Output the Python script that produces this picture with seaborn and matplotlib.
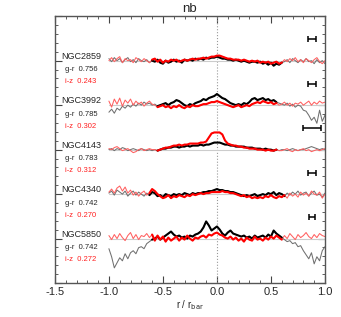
import numpy as np
import pandas as pd
import seaborn as sns
from matplotlib import pyplot as plt
from matplotlib.ticker import MultipleLocator

# radial grid (r / r_bar) on which the colour profiles are sampled
r = np.linspace(-1.0, 1.0, 81)

galaxies = ['NGC2859', 'NGC3992', 'NGC4143', 'NGC4340', 'NGC5850']
gr_mean = ['0.756', '0.785', '0.783', '0.742', '0.742']
iz_mean = ['0.243', '0.302', '0.312', '0.270', '0.272']
offsets = [5, 4, 3, 2, 1]
inner_lim = [0.61, 0.55, 0.56, 0.63, 0.61]   # extent of the bar region (thick line)
psf_half = [0.04, 0.035, 0.08, 0.04, 0.03]   # half width of resolution bar

# colour residuals along the bar, in centi-mag
gr_2859 = [2, -1, 3, 0, 2, -2, 1, 3, -1,
           1, -2, 2, 0, -1, 1, -2, 0,
           -1, 1, -2, -3, 0, -2, -1, 1,
           -1, 0, -2, 1, 0, 1, 0, 2,
           1, 2, 1, 3, 2, 3, 3, 4,
           3, 2, 2, 1, 1, 0, 1, 0,
           -1, 0, -1, -2, -1, -1, -2, -1,
           -3, -2, -4, -2, -5, -3, -4, -2,
           -1, 1, -2, 2, 0, -2, 1, -1,
           2, -1, 0, -3, 1, -2, 0, -3]
iz_2859 = [0, 3, -1, 2, 4, -2, 2, 0, 1,
           -2, 3, 1, -1, 2, 0, -2, 1,
           2, -1, 1, -2, 0, -1, 1, 0,
           1, -1, 0, 1, 0, 1, 2, 1,
           2, 2, 3, 2, 3, 4, 4, 5,
           5, 4, 3, 2, 2, 1, 1, 1,
           0, 1, 0, -1, 0, -1, 0, -2,
           -1, -2, -1, -3, -2, -1, -3, -2,
           1, -1, 2, 0, 3, -1, 1, -2,
           2, 0, -2, 1, 3, -1, -3, 0]

gr_3992 = [-7, -4, -8, -3, -5, -1, -3, 0, -2,
           1, -1, 2, 0, 3, 1, 2, 0,
           1, -1, 0, 1, 2, 0, 2, 3,
           5, 4, 2, 0, -1, 1, 0, 2,
           3, 4, 6, 5, 7, 8, 9, 11,
           9, 7, 6, 4, 2, 1, 0, 1,
           0, 2, 1, 3, 6, 7, 5, 6,
           7, 5, 6, 4, 5, 3, 2, 1,
           0, 2, -1, 1, -2, 0, -1, -5,
           -6, -10, -15, -12, -18, -5, -16, -10]
iz_3992 = [4, -2, 6, 1, 7, -1, 5, 2, 6,
           0, 4, 1, 3, -1, 2, 4, 1,
           0, -2, -1, 0, -2, -1, -3, -1,
           -2, 0, -2, -3, -1, -2, 0, -1,
           -1, 0, 1, 1, 2, 3, 3, 4,
           3, 2, 1, 0, -1, -2, -1, 0,
           -2, -1, 0, -1, 1, 2, 3, 2,
           4, 3, 2, 3, 1, 2, 0, 1,
           3, 0, 2, -1, 2, 1, 3, 0,
           2, 4, 0, 3, 1, 4, 2, 3]

gr_4143 = [0, 1, -1, 1, 0, 2, 1, -1, 0,
           1, 0, -1, 1, 0, -1, 0, -1,
           0, -1, 0, 1, 1, 2, 2, 3,
           3, 2, 3, 3, 4, 3, 4, 4,
           4, 5, 4, 5, 5, 6, 7, 7,
           7, 6, 5, 5, 4, 4, 3, 3,
           3, 3, 2, 2, 2, 1, 1, 1,
           0, 1, 0, 0, -1, 0, -1, 0,
           0, -1, 0, 1, 0, -1, 0, 0,
           1, 2, 3, 2, 1, 0, 1, 0]
iz_4143 = [1, 0, 2, 3, 1, -1, 0, 1, -1,
           -3, -2, 0, 1, -1, 0, 1, 0,
           0, -1, 0, 1, 2, 2, 3, 4,
           4, 5, 4, 5, 5, 6, 6, 6,
           6, 7, 7, 8, 12, 16, 17, 17,
           17, 15, 9, 6, 5, 4, 4, 3,
           3, 2, 2, 1, 1, 1, 0, 0,
           0, -1, 0, -1, -1, 0, -1, -1,
           0, 1, -1, -2, 0, -1, 0, 1,
           -1, 0, -2, -1, 0, -1, 0, 1]

gr_4340 = [1, 3, -1, 4, 2, 0, 3, -2, 1,
           3, -1, 2, 0, -2, 1, -1, 2,
           1, -2, -1, -3, 0, -1, -2, 0,
           -1, 0, -1, 1, 0, -1, 1, 0,
           1, 1, 2, 2, 3, 3, 4, 5,
           4, 4, 3, 3, 2, 2, 1, 0,
           -1, -2, -1, -2, -1, 0, -2, -1,
           0, -1, 1, 0, 2, -1, 1, 0,
           -2, 1, -1, 2, 0, 3, -1, 1,
           2, -2, 1, 3, -1, 0, -3, 1]
iz_4340 = [2, 5, 1, 6, 8, 3, 7, 1, 4,
           -1, 2, -2, 1, 3, -1, 1, 5,
           3, 0, -2, -4, -3, -1, -4, -2,
           -3, -1, -2, -3, -1, -2, 0, -1,
           0, 1, 0, 1, 1, 2, 2, 2,
           2, 3, 2, 2, 1, 1, 0, -1,
           -2, -1, -3, -2, -4, -3, -4, -3,
           -4, -2, -3, -1, -3, -4, -2, -3,
           -1, -4, 1, -2, 0, -3, 2, -1,
           1, -2, 3, 0, -1, 2, -4, 0]

gr_5850 = [-10, -18, -29, -24, -19, -22, -15, -20, -14,
           -12, -15, -9, -8, -10, -5, -3, -1,
           0, 2, -1, 1, 3, 5, 7, 4,
           2, 3, 1, 2, 0, 3, 2, 4,
           5, 7, 11, 17, 13, 8, 10, 12,
           9, 5, 3, 6, 8, 5, 4, 3,
           2, 3, 1, 2, 0, 3, 1, 2,
           3, 1, 4, 2, 8, 5, 3, 1,
           -1, -3, -2, -5, -4, -8, -7, -12,
           -16, -20, -14, -25, -18, -22, -12, -8]
iz_5850 = [3, -1, 4, 0, 5, 1, -2, 3, 6,
           0, 4, -1, 3, 2, 5, 1, 4,
           -2, 3, -1, 2, -3, 1, -2, 0,
           2, -2, 1, -1, 3, 0, -2, 1,
           0, 2, 3, 1, 4, 3, 5, 6,
           4, 3, 1, 0, 2, -1, 1, -2,
           0, -3, 1, -1, -2, 2, -1, 0,
           -2, 1, -1, 2, 0, 3, 1, -1,
           3, 0, 5, 2, -1, 4, 1, 3,
           6, 2, 0, 4, 1, 5, 3, 2]

gr_all = [gr_2859, gr_3992, gr_4143, gr_4340, gr_5850]
iz_all = [iz_2859, iz_3992, iz_4143, iz_4340, iz_5850]

sns.set_theme(style='ticks')
plt.rcParams['font.family'] = ['Liberation Sans', 'DejaVu Sans']
plt.rcParams['axes.unicode_minus'] = False

scale = 0.0227  # offset units per centi-mag

fig = plt.figure(figsize=(3.41, 3.17), dpi=100)
ax = fig.add_axes([0.161, 0.107, 0.792, 0.842])

ax.axvline(0, color='#999999', lw=0.8, ls=':', zorder=1)

for k, name in enumerate(galaxies):
    base = offsets[k]
    df = pd.DataFrame({'r': r,
                       'gr': base + scale * np.array(gr_all[k]),
                       'iz': base + scale * np.array(iz_all[k])})
    inner = df[np.abs(df['r']) <= inner_lim[k]]
    ax.plot([-1, 1], [base, base], color='#cccccc', lw=0.8, zorder=1)
    sns.lineplot(data=df, x='r', y='gr', ax=ax, color='#707070', lw=0.75,
                 estimator=None, sort=False, zorder=2)
    sns.lineplot(data=df, x='r', y='iz', ax=ax, color='#ff6060', lw=0.75,
                 estimator=None, sort=False, zorder=2)
    sns.lineplot(data=inner, x='r', y='gr', ax=ax, color='black', lw=1.5,
                 estimator=None, sort=False, zorder=3)
    sns.lineplot(data=inner, x='r', y='iz', ax=ax, color='#ff0000', lw=1.5,
                 estimator=None, sort=False, zorder=4)
    ax.errorbar(0.88, base + 0.48, xerr=psf_half[k], color='black',
                lw=1.1, capsize=2, capthick=1.1)
    ax.text(-1.44, base + 0.1, name, fontsize=6.5, va='center', ha='left')
    ax.text(-1.405, base - 0.2, 'g-r  ' + gr_mean[k], fontsize=5.5, va='center', ha='left')
    ax.text(-1.405, base - 0.47, 'i-z  ' + iz_mean[k], fontsize=5.5, va='center',
            ha='left', color='#ff2020')

ax.set_xlim(-1.5, 1.0)
ax.set_ylim(0, 6)
ax.xaxis.set_major_locator(MultipleLocator(0.5))
ax.xaxis.set_minor_locator(MultipleLocator(0.1))
ax.yaxis.set_major_locator(MultipleLocator(1.0))
ax.yaxis.set_minor_locator(MultipleLocator(0.2))
ax.set_xticks([-1.5, -1.0, -0.5, 0.0, 0.5, 1.0])
ax.set_xticklabels(['-1.5', '-1.0', '-0.5', '0.0', '0.5', '1.0'])
ax.set_yticklabels([])
ax.tick_params(which='both', direction='in', top=True, right=True, color='#444444')
ax.tick_params(which='major', length=5, width=0.8, labelsize=8, pad=3)
ax.tick_params(which='minor', length=2.5, width=0.6)
for sp in ax.spines.values():
    sp.set_color('#555555')
    sp.set_linewidth(1.0)

ax.set_xlabel(r'r / r$_{\rm bar}$', fontsize=7, labelpad=1)
ax.set_ylabel('')
ax.set_title('nb', fontsize=9.5, pad=3)

fig.savefig('out.png', dpi=100)
